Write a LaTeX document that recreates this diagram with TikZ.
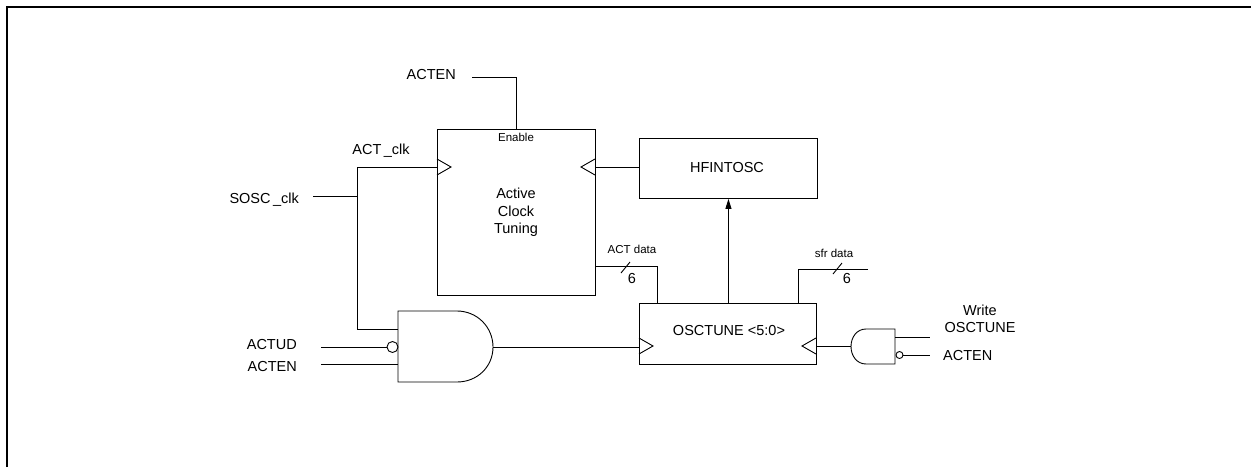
\documentclass[tikz,border=0pt]{standalone}
\usepackage{fontspec}
\setmainfont{Liberation Sans}
\usetikzlibrary{arrows.meta}
\begin{document}
\begin{tikzpicture}[x=1pt,y=-1pt,
  wire/.style={line width=0.9pt,draw=black},
  blk/.style={draw=black,line width=0.9pt,inner sep=0pt,anchor=north west},
  lbl/.style={font=\fontsize{14.5}{17.5}\selectfont,inner sep=0pt},
  sml/.style={font=\fontsize{11.5}{13}\selectfont,inner sep=0pt},
]
\useasboundingbox (0,0) rectangle (1251,467);
% frame
\draw[line width=2pt] (6.8,467) -- (6.8,6.8) -- (1251,6.8);

% blocks
\node[blk,minimum width=158pt,minimum height=166pt] (act) at (437,129) {};
\node[blk,minimum width=178pt,minimum height=60pt] (hf) at (639,138) {};
\node[blk,minimum width=177pt,minimum height=61pt] (osc) at (639,303) {};

% block texts
\node[sml,anchor=base] (en) at (516,141) {Enable};
\node[lbl,align=center] (acttxt) at (516,212.7) {Active\\Clock\\Tuning};
\node[lbl,anchor=base] (hftxt) at (727,172.5) {HFINTOSC};
\node[lbl,anchor=base] (osctxt) at (729,335) {OSCTUNE <5:0>};

% clock triangles
\draw[wire] (437,159) -- (451,167) -- (437,175);
\draw[wire] (595,159) -- (581,167) -- (595,175);
\draw[wire] (639,338) -- (653,346) -- (639,354);
\draw[wire] (816,338) -- (802,346) -- (816,354);

% main AND gate
\draw[wire] (457,311) -- (398,311) -- (398,382) -- (457,382)
  .. controls (477,382) and (493,367) .. (493,347)
  .. controls (493,327) and (477,311) .. (457,311) -- cycle;
\coordinate (g1in1) at (398,329);
\coordinate (g1in2) at (387,347);
\coordinate (g1in3) at (398,364);
\coordinate (g1out) at (493,347);
\draw[wire] (392.5,347) circle (5.5);

% right gate (output on left)
\draw[wire] (866,329) -- (895,329) -- (895,364) -- (866,364)
  .. controls (857,364) and (851,356) .. (851,346.5)
  .. controls (851,337) and (857,329) .. (866,329) -- cycle;
\coordinate (g2out) at (851,346.5);
\coordinate (g2in1) at (895,337);
\coordinate (g2in2) at (903,355);
\draw[wire] (899.5,355) circle (3.5);

% labels
\node[lbl,anchor=base east] (actenT) at (456,79) {ACTEN};
\node[lbl,anchor=base] (actclkL) at (381,154) {ACT\,\_clk};
\node[lbl,anchor=base east] (soscL) at (299,203) {SOSC\,\_clk};
\node[lbl,anchor=base east] (actudL) at (297,349) {ACTUD};
\node[lbl,anchor=base east] (actenL) at (297,371) {ACTEN};
\node[lbl,align=center] (wrL) at (980,318.8) {Write\\OSCTUNE};
\node[lbl,anchor=base west] (actenR) at (943,360) {ACTEN};
\node[sml,anchor=base] (actdataL) at (632,253) {ACT data};
\node[sml,anchor=base] (sfrdataL) at (834,257) {sfr data};
\node[lbl,anchor=base] (six1) at (632,283) {6};
\node[lbl,anchor=base] (six2) at (847,283) {6};

% connectors
\coordinate (actenW) at (472,77);
\draw[wire] (actenW) -| (act.north);
\coordinate (bend) at (357,167);
\coordinate (actclk) at (437,167);
\draw[wire] (g1in1) -| (bend) -- (actclk);
\coordinate (sosc) at (313,196);
\draw[wire] (sosc) -- (sosc -| bend);
\coordinate (hfclk) at (595,167);
\draw[wire] (hf.west |- hfclk) -- (hfclk);
\draw[wire,-{Triangle[length=10pt,width=6pt]}] (osc.north -| hf.south) -- (hf.south);
\coordinate (actdata) at (595,266);
\coordinate (oscA) at (657,303);
\draw[wire] (actdata) -| (oscA);
\draw[wire] (621,273) -- (630,262);
\coordinate (sfr) at (868,269);
\coordinate (oscB) at (798,303);
\draw[wire] (sfr) -| (oscB);
\draw[wire] (833,274) -- (842,263);
\coordinate (oscclk) at (639,347);
\draw[wire] (g1out) -- (oscclk);
\coordinate (oscclk2) at (816,346.5);
\draw[wire] (g2out) -- (oscclk2);
\coordinate (actudW) at (321,347);
\coordinate (actenLW) at (321,364);
\draw[wire] (actudW) -- (g1in2);
\draw[wire] (actenLW) -- (g1in3);
\coordinate (wrW) at (930,337);
\coordinate (acRW) at (930,355);
\draw[wire] (g2in1) -- (wrW);
\draw[wire] (g2in2) -- (acRW);
\end{tikzpicture}
\end{document}
